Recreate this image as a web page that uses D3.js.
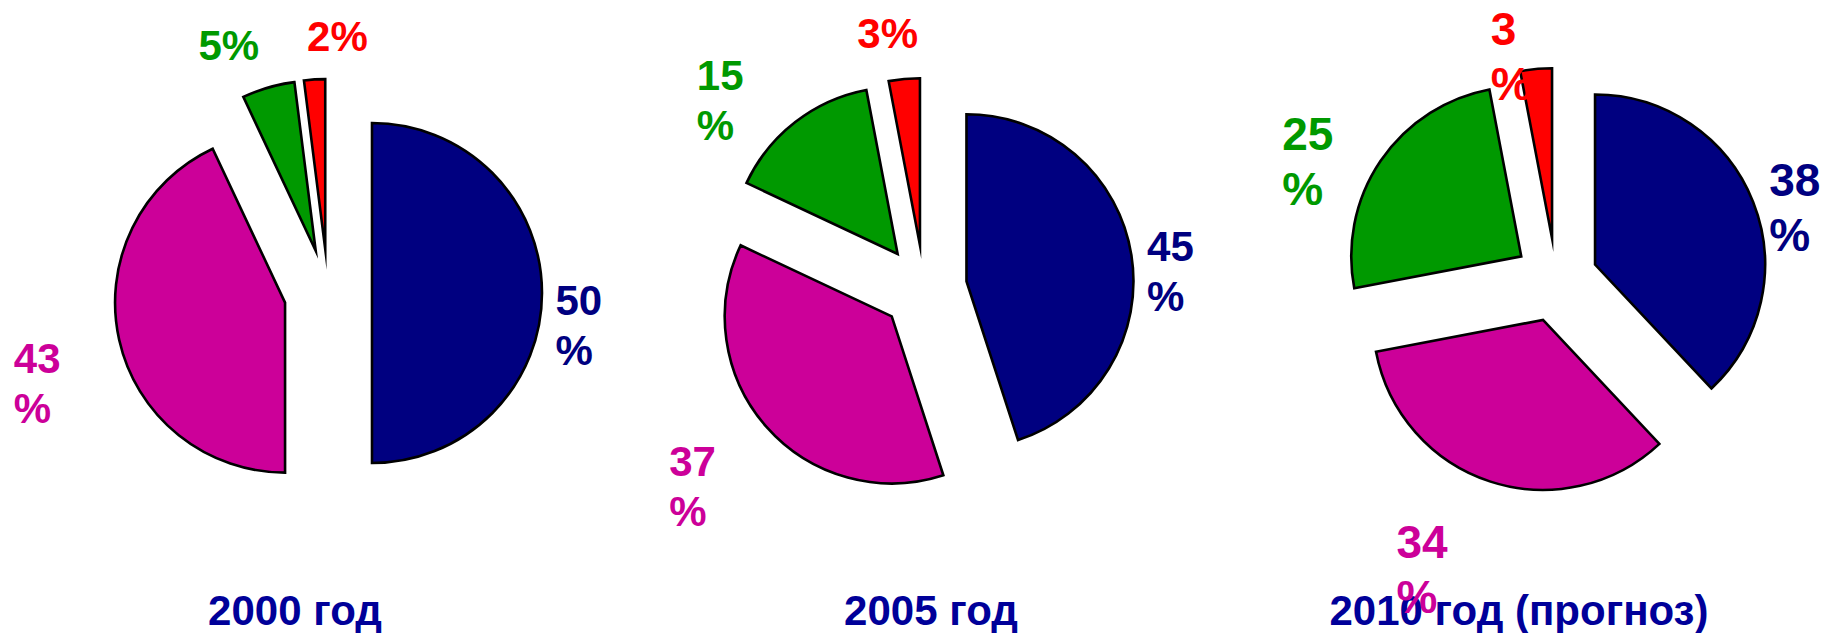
<!DOCTYPE html>
<html>
<head>
<meta charset="utf-8">
<script src="https://cdn.jsdelivr.net/npm/d3@7"></script>
<style>
  body { margin: 0; background: #fff; }
  text { font-family: "Liberation Sans", Arial, sans-serif; font-weight: bold; }
</style>
</head>
<body>
<svg id="chart" width="1826" height="633"></svg>
<script>
// data
const years = ["2000 год", "2005 год", "2010 год (прогноз)"];
const values2000 = [50, 43, 5, 2];
const values2005 = [45, 37, 15, 3];
const values2010 = [38, 34, 25, 3];
const sliceColors = ["#000080", "#cc0099", "#009900", "#ff0000"];

// layout of each pie (position, size, explode, label placement)
const pies = [
  { title: years[0], values: values2000, cx: 328, cy: 293, r: 170, explode: 44, titleX: 295,
    labelDist: [251, 298, 267, 257], labelTurn: [1.7, 0, -5.6, 5.7],
    wrap: [true, true, false, false], fontSize: 42, lineH: 50 },
  { title: years[1], values: values2005, cx: 924, cy: 288, r: 167, explode: 43, titleX: 931,
    labelDist: [250, 289, 295, 258], labelTurn: [-0.7, 4.6, -5.9, -2.7],
    wrap: [true, true, true, false], fontSize: 42, lineH: 50 },
  { title: years[2], values: values2010, cx: 1556, cy: 280, r: 170, explode: 42, titleX: 1519,
    labelDist: [259, 294, 288, 257], labelTurn: [-1.2, 9.1, -3.7, -6.4],
    wrap: [true, true, true, true], fontSize: 46, lineH: 55 }
];

const svg = d3.select("#chart");
const pie = d3.pie().sort(null).value(d => d);

// titles first, labels overlap them in the original
svg.selectAll("text.title")
  .data(pies)
  .enter()
  .append("text")
  .attr("class", "title")
  .attr("x", p => p.titleX)
  .attr("y", 625)
  .attr("text-anchor", "middle")
  .attr("font-size", 42)
  .attr("fill", "#000099")
  .text(p => p.title);

pies.forEach(p => {
  const arc = d3.arc().innerRadius(0).outerRadius(p.r);
  const arcs = pie(p.values);
  const g = svg.append("g").attr("transform", "translate(" + p.cx + "," + p.cy + ")");

  g.selectAll("path")
    .data(arcs)
    .enter()
    .append("path")
    .attr("d", arc)
    .attr("transform", d => {
      const mid = (d.startAngle + d.endAngle) / 2;
      return "translate(" + (p.explode * Math.sin(mid)) + "," + (-p.explode * Math.cos(mid)) + ")";
    })
    .attr("fill", (d, i) => sliceColors[i])
    .attr("stroke", "#000")
    .attr("stroke-width", 2.6)
    .attr("stroke-linejoin", "miter")
    .attr("stroke-miterlimit", 20);

  arcs.forEach((d, i) => {
    const a = (d.startAngle + d.endAngle) / 2 + p.labelTurn[i] * Math.PI / 180;
    const px = p.labelDist[i] * Math.sin(a);
    const py = -p.labelDist[i] * Math.cos(a);
    const t = g.append("text")
      .attr("font-size", p.fontSize)
      .attr("fill", sliceColors[i]);
    const first = t.append("tspan")
      .attr("y", py + p.fontSize * 0.358)
      .text(p.wrap[i] ? String(d.data) : d.data + "%");
    const w = first.node().getComputedTextLength();
    first.attr("x", px - w / 2);
    if (p.wrap[i]) {
      t.append("tspan")
        .attr("x", px - w / 2)
        .attr("y", py + p.fontSize * 0.358 + p.lineH)
        .text("%");
    }
  });
});
</script>
</body>
</html>
